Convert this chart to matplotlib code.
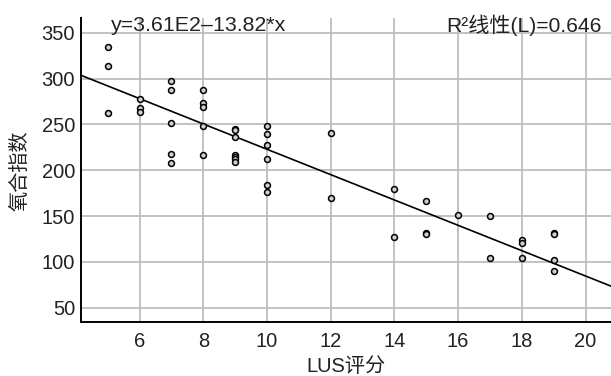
import matplotlib
matplotlib.use("Agg")
import matplotlib.pyplot as plt
import numpy as np

plt.rcParams['font.family'] = ['Liberation Sans', 'Noto Sans CJK SC', 'DejaVu Sans']

# LUS score (x) and oxygenation index (y)
lus = [5, 5, 5,
       6, 6, 6,
       7, 7, 7, 7, 7,
       8, 8, 8, 8, 8,
       9, 9, 9, 9, 9, 9, 9,
       10, 10, 10, 10, 10, 10,
       12, 12,
       14, 14,
       15, 15, 15,
       16,
       17, 17,
       18, 18, 18,
       19, 19, 19, 19]
oi = [334, 314, 262,
      278, 268, 263,
      297, 287, 251, 218, 208,
      287, 273, 269, 248, 217,
      245, 244, 236, 217, 214, 212, 209,
      248, 239, 227, 212, 184, 176,
      241, 170,
      179, 127,
      166, 132, 130,
      151,
      150, 104,
      124, 121, 104,
      132, 130, 102, 90]

intercept = 361.0
slope = -13.82
eq_text = "y=3.61E2\u201313.82*x"
r2_text = "R\u00b2线性(L)=0.646"
x_label = "LUS评分"
y_label = "氧合指数"
x_ticks = [6, 8, 10, 12, 14, 16, 18, 20]
y_ticks = [50, 100, 150, 200, 250, 300, 350]

fig = plt.figure(figsize=(6.11, 3.76), dpi=100)
ax = fig.add_axes([80.7 / 611, 1 - 322.3 / 376, 1 - 80.7 / 611, (322.3 - 18.3) / 376])

xlim = (4.15, 20.8)
ylim = (34.1, 365.7)
ax.set_xlim(*xlim)
ax.set_ylim(*ylim)

ax.set_xticks(x_ticks)
ax.set_yticks(y_ticks)
ax.grid(True, color='#bdbdbd', linewidth=1.3, zorder=0)
ax.set_axisbelow(True)

xs = np.array(xlim)
ax.plot(xs, intercept + slope * xs, color='black', linewidth=1.2, zorder=2)
ax.scatter(lus, oi, s=18, facecolor='#cfcfcf', edgecolor='black', linewidths=1.1, zorder=3)

for side in ['top', 'right']:
    ax.spines[side].set_visible(False)
for side in ['left', 'bottom']:
    ax.spines[side].set_linewidth(1.4)
    ax.spines[side].set_color('black')

ax.tick_params(axis='both', length=0, labelsize=14.5, colors='#222222')
ax.tick_params(axis='x', pad=7)
ax.tick_params(axis='y', pad=4)

ax.set_xlabel(x_label, fontsize=14.5, color='#222222', labelpad=4)
ax.set_ylabel(y_label, fontsize=14.5, color='#222222', labelpad=9)

fig.text(111 / 611, 1 - 31 / 376, eq_text, fontsize=15.4, va='baseline', ha='left', color='#222222')
fig.text(602 / 611, 1 - 31.5 / 376, r2_text, fontsize=15.2, va='baseline', ha='right', color='#222222')

fig.savefig("out.png", dpi=100)
